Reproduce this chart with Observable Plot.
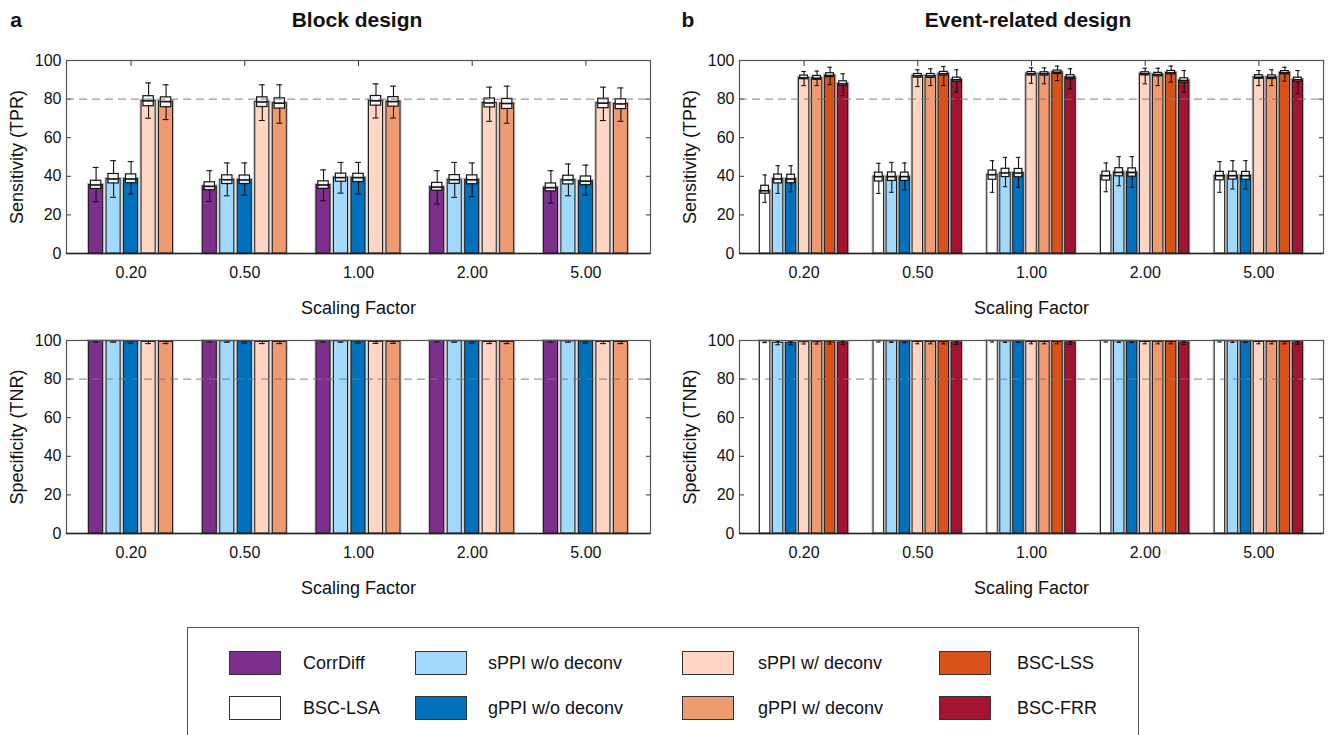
<!DOCTYPE html>
<html>
<head>
<meta charset="utf-8">
<script src="https://cdn.jsdelivr.net/npm/d3@7"></script>
<script src="https://cdn.jsdelivr.net/npm/@observablehq/plot@0.6"></script>
<style>
  body { margin: 0; background: #fff; font-family: "Liberation Sans", Arial, Helvetica, sans-serif; }
  #root { position: relative; width: 1331px; height: 735px; overflow: hidden; background: #fff; }
  .abs { position: absolute; }
  .title { font-weight: bold; font-size: 21px; color: #111; transform: translate(-50%, -50%); white-space: nowrap; }
  .letter { font-weight: bold; font-size: 21px; color: #111; transform: translate(-50%, -50%); }
  #legend { position: absolute; left: 187px; top: 627px; width: 952px; height: 130px; border: 1px solid #555; box-sizing: border-box; }
  .sw { position: absolute; width: 52px; height: 24px; border: 1px solid #333; box-sizing: border-box; }
  .lt { position: absolute; font-size: 18px; color: #111; transform: translateY(-50%); white-space: nowrap; }
</style>
</head>
<body>
<div id="root"></div>
<script>
// ---------------- data ----------------
const scalingLabels = ["0.20", "0.50", "1.00", "2.00", "5.00"];
const yTicks = [0, 20, 40, 60, 80, 100];
const threshold = [80];

const legendMethods = ["CorrDiff", "BSC-LSA", "sPPI w/o deconv", "gPPI w/o deconv",
  "sPPI w/ deconv", "gPPI w/ deconv", "BSC-LSS", "BSC-FRR"];
const legendColors = ["#7E2F8E", "#FFFFFF", "#A2D9FF", "#0072BD",
  "#FFD5C3", "#F09A72", "#D95319", "#A2142F"];

const blockMethods = ["CorrDiff", "sPPI w/o deconv", "gPPI w/o deconv", "sPPI w/ deconv", "gPPI w/ deconv"];
const eventMethods = ["BSC-LSA", "sPPI w/o deconv", "gPPI w/o deconv", "sPPI w/ deconv", "gPPI w/ deconv", "BSC-LSS", "BSC-FRR"];

// Block design, sensitivity (rows = blockMethods, cols = scaling factors)
const blockTprMean = [
  [35.5, 34.8, 35.5, 34.4, 34.1],
  [38.6, 38.2, 39.3, 38.2, 38.1],
  [38.6, 38.1, 39.3, 38.2, 37.5],
  [79.1, 78.5, 79.1, 78.0, 77.9],
  [78.7, 77.9, 78.7, 77.7, 77.5]];
const blockTprLo = [
  [26.8, 27.0, 27.3, 25.6, 26.1],
  [29.1, 29.9, 31.3, 29.1, 29.9],
  [30.8, 30.3, 30.8, 29.4, 30.3],
  [70.1, 68.9, 70.2, 68.5, 68.9],
  [69.4, 67.5, 70.2, 67.5, 68.5]];
const blockTprHi = [
  [44.6, 42.9, 43.3, 42.9, 42.9],
  [48.1, 46.9, 47.2, 47.2, 46.4],
  [47.6, 46.9, 47.2, 46.9, 45.8],
  [88.4, 87.4, 87.9, 86.2, 86.2],
  [87.4, 87.4, 86.7, 86.7, 85.8]];
const blockTprQ1 = [
  [33.4, 32.8, 33.5, 32.5, 32.2],
  [36.3, 36.0, 37.2, 36.1, 35.8],
  [36.4, 36.0, 37.0, 35.9, 35.4],
  [76.3, 75.9, 76.6, 75.7, 75.3],
  [75.8, 75.1, 76.1, 74.9, 74.8]];
const blockTprQ3 = [
  [37.7, 36.9, 37.4, 36.6, 36.3],
  [41.2, 40.5, 41.4, 40.6, 40.3],
  [41.0, 40.4, 41.3, 40.5, 39.9],
  [81.5, 80.9, 81.6, 80.3, 80.2],
  [80.9, 80.4, 81.0, 80.1, 79.9]];

// Event-related design, sensitivity (rows = eventMethods)
const eventTprMean = [
  [32.5, 39.8, 40.8, 40.3, 40.3],
  [38.6, 39.8, 41.7, 42.0, 40.3],
  [38.6, 39.8, 41.7, 42.0, 40.3],
  [91.0, 92.0, 93.1, 93.1, 91.3],
  [90.8, 92.0, 93.1, 92.7, 91.3],
  [92.2, 93.1, 93.9, 93.6, 93.6],
  [87.9, 90.0, 91.3, 89.6, 90.0]];
const eventTprLo = [
  [26.5, 31.1, 31.7, 32.0, 31.7],
  [31.1, 31.7, 34.6, 35.1, 33.4],
  [32.0, 32.9, 34.3, 34.3, 33.4],
  [87.0, 86.5, 88.2, 87.9, 87.0],
  [87.0, 87.0, 87.9, 87.0, 87.0],
  [87.5, 87.0, 89.6, 88.8, 89.3],
  [81.8, 83.6, 85.3, 83.6, 82.7]];
const eventTprHi = [
  [40.7, 46.7, 48.1, 46.9, 47.6],
  [45.5, 47.2, 49.8, 50.2, 48.1],
  [45.5, 46.9, 49.8, 50.2, 48.1],
  [94.3, 95.2, 96.2, 96.0, 94.8],
  [94.5, 95.7, 96.2, 96.0, 95.2],
  [96.5, 96.9, 97.1, 97.1, 96.5],
  [93.1, 95.2, 95.7, 94.8, 94.8]];
const eventTprQ1 = [
  [31.0, 37.3, 38.2, 37.8, 37.9],
  [36.3, 37.6, 39.6, 40.0, 38.3],
  [36.4, 37.6, 39.5, 39.8, 38.2],
  [90.3, 91.1, 92.2, 92.3, 90.5],
  [90.0, 91.0, 92.2, 91.8, 90.4],
  [91.4, 92.2, 93.0, 92.8, 92.8],
  [86.9, 89.0, 90.3, 88.6, 89.0]];
const eventTprQ3 = [
  [35.1, 41.9, 43.0, 42.4, 42.3],
  [40.9, 42.0, 43.9, 44.2, 42.4],
  [40.8, 41.9, 43.8, 44.1, 42.3],
  [92.2, 93.0, 94.0, 93.9, 92.4],
  [92.0, 93.0, 93.9, 93.6, 92.3],
  [93.4, 94.1, 94.8, 94.6, 94.5],
  [89.2, 91.1, 92.4, 90.8, 91.1]];

// Block design, specificity
const blockTnrMean = [
  [99.7, 99.7, 99.7, 99.7, 99.7],
  [99.6, 99.6, 99.6, 99.6, 99.6],
  [99.5, 99.5, 99.5, 99.5, 99.5],
  [99.2, 99.2, 99.3, 99.2, 99.2],
  [99.2, 99.2, 99.3, 99.2, 99.2]];
const blockTnrLo = [
  [99.2, 99.2, 99.2, 99.2, 99.2],
  [99.1, 99.1, 99.1, 99.1, 99.1],
  [98.6, 98.7, 98.7, 98.7, 98.7],
  [98.4, 98.4, 98.5, 98.4, 98.4],
  [98.4, 98.4, 98.5, 98.4, 98.4]];
const blockTnrHi = [
  [99.95, 99.95, 99.95, 99.95, 99.95],
  [99.9, 99.9, 99.9, 99.9, 99.9],
  [99.9, 99.9, 99.9, 99.9, 99.9],
  [99.7, 99.7, 99.7, 99.7, 99.7],
  [99.7, 99.7, 99.7, 99.7, 99.7]];

// Event-related design, specificity
const eventTnrMean = [
  [99.6, 99.7, 99.7, 99.7, 99.7],
  [98.8, 99.6, 99.6, 99.6, 99.6],
  [98.8, 99.5, 99.6, 99.6, 99.6],
  [99.1, 99.2, 99.2, 99.2, 99.2],
  [99.1, 99.2, 99.2, 99.2, 99.2],
  [99.1, 99.2, 99.2, 99.2, 99.2],
  [99.0, 99.0, 99.0, 99.0, 99.0]];
const eventTnrLo = [
  [98.9, 99.2, 99.2, 99.2, 99.2],
  [97.8, 99.0, 99.0, 99.0, 99.0],
  [97.8, 98.9, 99.0, 99.0, 99.0],
  [98.2, 98.3, 98.3, 98.3, 98.3],
  [98.2, 98.3, 98.3, 98.3, 98.3],
  [98.2, 98.3, 98.3, 98.3, 98.3],
  [97.9, 98.0, 98.0, 98.0, 98.0]];
const eventTnrHi = [
  [99.95, 99.95, 99.95, 99.95, 99.95],
  [99.6, 99.9, 99.9, 99.9, 99.9],
  [99.6, 99.9, 99.9, 99.9, 99.9],
  [99.7, 99.7, 99.7, 99.7, 99.7],
  [99.7, 99.7, 99.7, 99.7, 99.7],
  [99.7, 99.7, 99.7, 99.7, 99.7],
  [99.6, 99.6, 99.6, 99.6, 99.6]];

// ---------------- drawing ----------------
const FONT = '"Liberation Sans", Arial, Helvetica, sans-serif';
const xTicks = scalingLabels.map((_, i) => i + 1);

function makeRows(methods, mean, lo, hi, q1, q3, groupWidth) {
  const n = methods.length;
  const step = groupWidth / n;
  const rows = [];
  methods.forEach((m, j) => {
    scalingLabels.forEach((s, i) => {
      rows.push({
        method: m,
        xc: i + 1 + (j - (n - 1) / 2) * step,
        mean: mean[j][i], lo: lo[j][i], hi: hi[j][i],
        q1: q1 ? q1[j][i] : null, q3: q3 ? q3[j][i] : null
      });
    });
  });
  return {rows, barW: step * 0.8};
}

function panel({methods, mean, lo, hi, q1, q3, groupWidth, yLabel}) {
  const {rows, barW} = makeRows(methods, mean, lo, hi, q1, q3, groupWidth);
  const boxW = barW * 0.74, capW = barW * 0.42;
  const marks = [
    // inward tick marks (all four sides)
    Plot.axisX(xTicks, {anchor: "bottom", tickSize: -5, tickFormat: () => "", label: null, stroke: "#333"}),
    Plot.axisX(xTicks, {anchor: "top", tickSize: -5, tickFormat: () => "", label: null, stroke: "#333"}),
    Plot.axisY(yTicks, {anchor: "left", tickSize: -5, tickFormat: () => "", label: null, stroke: "#333"}),
    Plot.axisY(yTicks, {anchor: "right", tickSize: -5, tickFormat: () => "", label: null, stroke: "#333"}),
    // tick labels
    Plot.axisX(xTicks, {anchor: "bottom", tickSize: 0, tickPadding: 13, tickFormat: d => scalingLabels[d - 1], label: null, fontSize: 16, fill: "#111"}),
    Plot.axisY(yTicks, {anchor: "left", tickSize: 0, tickPadding: 5, label: null, fontSize: 16, fill: "#111"}),
    // bar halo + bars
    Plot.rect(rows, {x1: d => d.xc - barW / 2, x2: d => d.xc + barW / 2, y1: () => 0, y2: "mean",
      fill: "none", stroke: "#8c8c8c", strokeWidth: 3, strokeOpacity: 0.55}),
    Plot.rect(rows, {x1: d => d.xc - barW / 2, x2: d => d.xc + barW / 2, y1: () => 0, y2: "mean",
      fill: "method", stroke: "#111", strokeWidth: 0.9}),
    // whiskers
    Plot.ruleX(rows, {x: "xc", y1: "lo", y2: "hi", stroke: "#111", strokeWidth: 1.1}),
    Plot.ruleY(rows, {x1: d => d.xc - capW / 2, x2: d => d.xc + capW / 2, y: "hi", stroke: "#111", strokeWidth: 1.1}),
    Plot.ruleY(rows, {x1: d => d.xc - capW / 2, x2: d => d.xc + capW / 2, y: "lo", stroke: "#111", strokeWidth: 1.1})
  ];
  if (q1) {
    marks.push(
      Plot.rect(rows, {x1: d => d.xc - boxW / 2, x2: d => d.xc + boxW / 2, y1: "q1", y2: "q3",
        fill: "white", fillOpacity: 0.88, stroke: "#111", strokeWidth: 1.2}),
      Plot.ruleY(rows, {x1: d => d.xc - boxW / 2, x2: d => d.xc + boxW / 2, y: "mean", stroke: "#111", strokeWidth: 1.6})
    );
  }
  marks.push(
    // threshold
    Plot.ruleY(threshold, {stroke: "#777", strokeOpacity: 0.75, strokeDasharray: "8,5", strokeWidth: 1.2}),
    // frame
    Plot.frame({stroke: "#555", strokeWidth: 1.2}),
    Plot.ruleY([0], {stroke: "#222", strokeWidth: 1.6}),
    // axis titles
    Plot.text(["Scaling Factor"], {frameAnchor: "bottom", dy: 60, fontSize: 18, fill: "#111"}),
    Plot.text([yLabel], {frameAnchor: "left", textAnchor: "middle", dx: -49, rotate: -90, fontSize: 18, fill: "#111"})
  );
  return Plot.plot({
    width: 665, height: 290,
    marginLeft: 66, marginRight: 15, marginTop: 20, marginBottom: 77,
    x: {domain: [0.432, 5.568], axis: null},
    y: {domain: [0, 100], axis: null},
    color: {domain: legendMethods, range: legendColors},
    style: {fontFamily: FONT, fontSize: "16px", color: "#111", background: "transparent", overflow: "visible"},
    marks
  });
}

const root = document.getElementById("root");
function place(el, left, top) {
  el.style.position = "absolute";
  el.style.left = left + "px";
  el.style.top = top + "px";
  root.appendChild(el);
}

place(panel({methods: blockMethods, mean: blockTprMean, lo: blockTprLo, hi: blockTprHi, q1: blockTprQ1, q3: blockTprQ3,
  groupWidth: 5 / 6.5, yLabel: "Sensitivity (TPR)"}), 0, 40);
place(panel({methods: eventMethods, mean: eventTprMean, lo: eventTprLo, hi: eventTprHi, q1: eventTprQ1, q3: eventTprQ3,
  groupWidth: 0.8, yLabel: "Sensitivity (TPR)"}), 673, 40);
place(panel({methods: blockMethods, mean: blockTnrMean, lo: blockTnrLo, hi: blockTnrHi,
  groupWidth: 5 / 6.5, yLabel: "Specificity (TNR)"}), 0, 320);
place(panel({methods: eventMethods, mean: eventTnrMean, lo: eventTnrLo, hi: eventTnrHi,
  groupWidth: 0.8, yLabel: "Specificity (TNR)"}), 673, 320);

// titles
function label(text, cls, x, y) {
  const d = document.createElement("div");
  d.className = "abs " + cls;
  d.textContent = text;
  d.style.left = x + "px";
  d.style.top = y + "px";
  root.appendChild(d);
}
label("a", "letter", 16, 20);
label("Block design", "title", 357, 20);
label("b", "letter", 688, 20);
label("Event-related design", "title", 1028, 20);

// legend
const legend = document.createElement("div");
legend.id = "legend";
root.appendChild(legend);
const legendOrder = [
  ["CorrDiff", "BSC-LSA"],
  ["sPPI w/o deconv", "gPPI w/o deconv"],
  ["sPPI w/ deconv", "gPPI w/ deconv"],
  ["BSC-LSS", "BSC-FRR"]];
const colSwatchX = [41, 227, 494, 751];
const colTextX = [115, 300, 570, 829];
const rowY = [23, 68];
legendOrder.forEach((col, c) => {
  col.forEach((m, r) => {
    const sw = document.createElement("div");
    sw.className = "sw";
    sw.style.left = colSwatchX[c] + "px";
    sw.style.top = rowY[r] + "px";
    sw.style.background = legendColors[legendMethods.indexOf(m)];
    legend.appendChild(sw);
    const t = document.createElement("div");
    t.className = "lt";
    t.textContent = m;
    t.style.left = colTextX[c] + "px";
    t.style.top = (rowY[r] + 12) + "px";
    legend.appendChild(t);
  });
});
</script>
</body>
</html>
